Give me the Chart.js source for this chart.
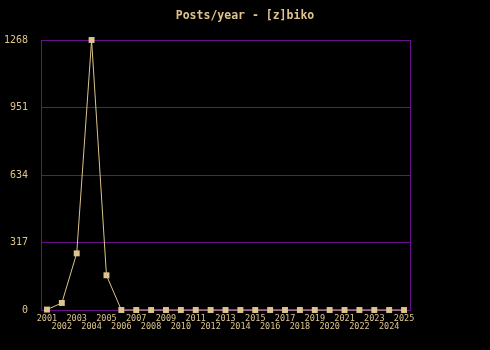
<!DOCTYPE html>
<html>
<head>
	<meta charset="utf-8">
	<title>Posts/year</title>
	<script type="text/javascript" src="https://cdn.jsdelivr.net/npm/chart.js"></script>
</head>
<body>
<div class="chart-container">
	<canvas id="myChart" width="490" height="350"></canvas>
</div>
<script>
const years = [2001, 2002, 2003, 2004, 2005, 2006, 2007, 2008, 2009, 2010, 2011, 2012, 2013,
	2014, 2015, 2016, 2017, 2018, 2019, 2020, 2021, 2022, 2023, 2024, 2025]
const posts = [2, 33, 266, 1268, 163, 0, 0, 0, 0, 0, 0, 0, 0,
	0, 0, 0, 0, 0, 0, 0, 0, 0, 0, 0, 0]
const yTicks = [0, 317, 634, 951, 1268]

const tan = '#dcc48c'
const purple = '#6a0f8e'
const font = "'DejaVu Sans Mono', monospace"

// purple frame round the plot area, under the points
const frame = {
	id: 'frame',
	beforeDatasetsDraw(chart) {
		const a = chart.chartArea
		const ctx = chart.ctx
		ctx.save()
		ctx.strokeStyle = purple
		ctx.lineWidth = 1
		ctx.strokeRect(Math.round(a.left) + 0.5, Math.round(a.top) + 0.5,
			Math.round(a.right - a.left), Math.round(a.bottom - a.top))
		ctx.restore()
	}
}

const ctx = document.getElementById('myChart').getContext('2d');
const chart = new Chart(ctx, {
	type: 'line',
	data: {
		datasets: [{
			data: years.map((y, i) => ({ x: y, y: posts[i] })),
			borderColor: tan,
			backgroundColor: tan,
			borderWidth: 1,
			tension: 0,
			pointStyle: 'rect',
			pointRadius: 4.2,
			pointBorderWidth: 0,
			clip: false
		}]
	},
	options: {
		responsive: false,
		animation: false,
		layout: { padding: 0 },
		plugins: {
			legend: { display: false },
			tooltip: { enabled: false },
			title: {
				display: true,
				text: 'Posts/year - [z]biko',
				color: tan,
				font: { family: font, size: 11.5, weight: 'bold', lineHeight: 1.2 },
				padding: { top: 9.5, bottom: 16.7 }
			}
		},
		scales: {
			x: {
				type: 'linear',
				min: 2000.6,
				max: 2025.4,
				afterBuildTicks: s => { s.ticks = years.map(v => ({ value: v })) },
				afterFit: s => { s.height = 40 },
				grid: { display: false, drawTicks: false },
				border: { display: false },
				ticks: {
					color: tan,
					padding: 5,
					maxRotation: 0,
					autoSkip: false,
					font: { family: font, size: 8.5, lineHeight: '8px' },
					callback: (v) => (v - 2001) % 2 ? ['', String(v)] : String(v)
				}
			},
			y: {
				min: 0,
				max: 1268,
				afterBuildTicks: s => { s.ticks = yTicks.map(v => ({ value: v })) },
				afterFit: s => { s.width = 41 },
				grid: { color: purple, drawTicks: false, lineWidth: 1 },
				border: { display: false },
				ticks: {
					color: tan,
					padding: 13,
					font: { family: font, size: 10 },
					callback: (v) => String(v)
				}
			},
			// empty right margin so the title centres on the whole picture
			pad: {
				position: 'right',
				afterFit: s => { s.width = 80 },
				grid: { display: false, drawTicks: false },
				border: { display: false },
				ticks: { display: false }
			}
		}
	},
	plugins: [frame]
});
</script>
<style type="text/css">
body {
	margin: 0;
	background-color: #000;
}
.chart-container {
	width: 490px;
	height: 350px;
}
</style>
</body>
</html>
